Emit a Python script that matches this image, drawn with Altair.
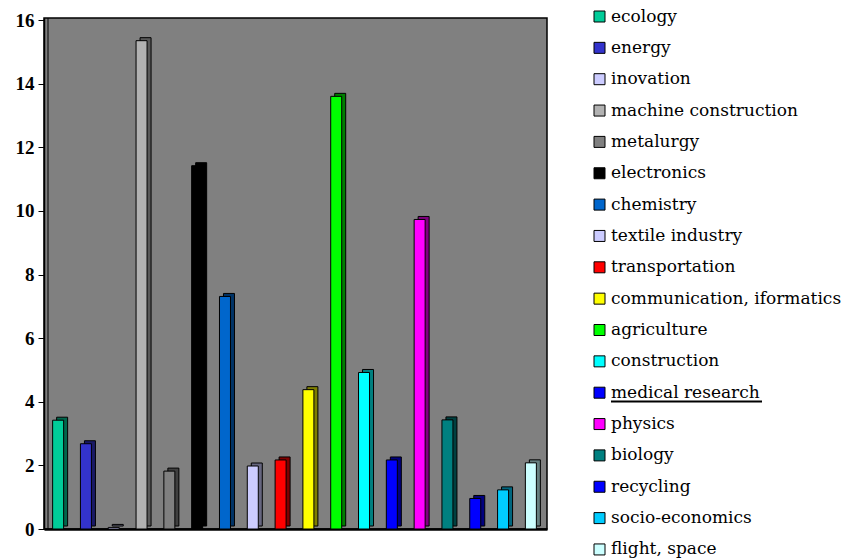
import altair as alt
import pandas as pd

categories = [
    "ecology", "energy", "inovation", "machine construction", "metalurgy",
    "electronics", "chemistry", "textile industry", "transportation",
    "communication, iformatics", "agriculture", "construction",
    "medical research", "physics", "biology", "recycling",
    "socio-economics", "flight, space",
]
values = [3.42, 2.68, 0.05, 15.35, 1.82, 11.42, 7.31, 1.98, 2.17,
          4.38, 13.6, 4.92, 2.17, 9.73, 3.43, 0.96, 1.23, 2.08]
colors = [
    "#00CC99", "#3333CC", "#CCCCFF", "#B2B2B2", "#808080", "#000000",
    "#0066CC", "#CCCCFF", "#FF0000", "#FFFF00", "#00FF00", "#00FFFF",
    "#0000FF", "#FF00FF", "#008080", "#0000FF", "#00CCFF", "#CCFFFF",
]
y_ticks = [0, 2, 4, 6, 8, 10, 12, 14, 16]


def darker(hex_color, f=0.5):
    r, g, b = (int(hex_color[i:i + 2], 16) for i in (1, 3, 5))
    return "#{:02X}{:02X}{:02X}".format(int(r * f), int(g * f), int(b * f))


df = pd.DataFrame({
    "category": categories,
    "value": values,
    "side": [darker(c) for c in colors],
})

W, H = 503, 511
y_max = 16 * H / 509

x_enc = alt.X(
    "category:N", sort=categories,
    scale=alt.Scale(domain=categories, paddingInner=0, paddingOuter=0.044),
    axis=alt.Axis(labels=False, ticks=False, title=None,
                  domainColor="black", domainWidth=2.5),
)
y_enc = alt.Y(
    "value:Q",
    scale=alt.Scale(domain=[0, y_max], nice=False, zero=True),
    axis=alt.Axis(values=y_ticks, title=None, grid=False,
                  labelFont="Liberation Serif", labelFontWeight="bold",
                  labelFontSize=19, labelColor="black", tickColor="black",
                  tickSize=6, labelPadding=4, domainColor="black",
                  domainWidth=1.5),
)

# depth face of each bar, shifted up and right
side = alt.Chart(df).mark_bar(
    size=11, stroke="black", strokeWidth=1, xOffset=3, yOffset=-3
).encode(
    x=x_enc, y=y_enc,
    fill=alt.Fill("side:N", scale=None, legend=None),
)

front = alt.Chart(df).mark_bar(
    size=11, stroke="black", strokeWidth=1, xOffset=-1, opacity=1
).encode(
    x=x_enc, y=y_enc,
    color=alt.Color(
        "category:N", sort=categories,
        scale=alt.Scale(domain=categories, range=colors),
        legend=alt.Legend(
            title=None, orient="none", legendX=547, legendY=-10,
            symbolType="square", symbolSize=121, symbolStrokeColor="black",
            symbolStrokeWidth=1, symbolOpacity=1,
            labelFont="DejaVu Serif", labelFontSize=17, labelColor="black",
            labelOffset=3, rowPadding=13.35, padding=0, labelLimit=400,
        ),
    ),
)

frame = pd.DataFrame({"a": [0]})
# inner edge of the left wall
wall = alt.Chart(frame).mark_rule(color="black", strokeWidth=1).encode(
    x=alt.value(4), y=alt.value(0), y2=alt.value(H)
)
# underline below the "medical research" entry
underline = alt.Chart(frame).mark_rule(color="black", strokeWidth=2.2).encode(
    x=alt.value(567), x2=alt.value(718), y=alt.value(383.5)
)

chart = alt.layer(wall, side, front, underline).properties(
    width=W, height=H,
    autosize=alt.AutoSizeParams(type="none"),
    padding={"left": 44, "top": 18, "right": 310, "bottom": 29},
    background="white",
).configure_view(fill="#808080", stroke="black", strokeWidth=1.5)

chart.save("out.html", embed_options={"renderer": "svg", "actions": False})
